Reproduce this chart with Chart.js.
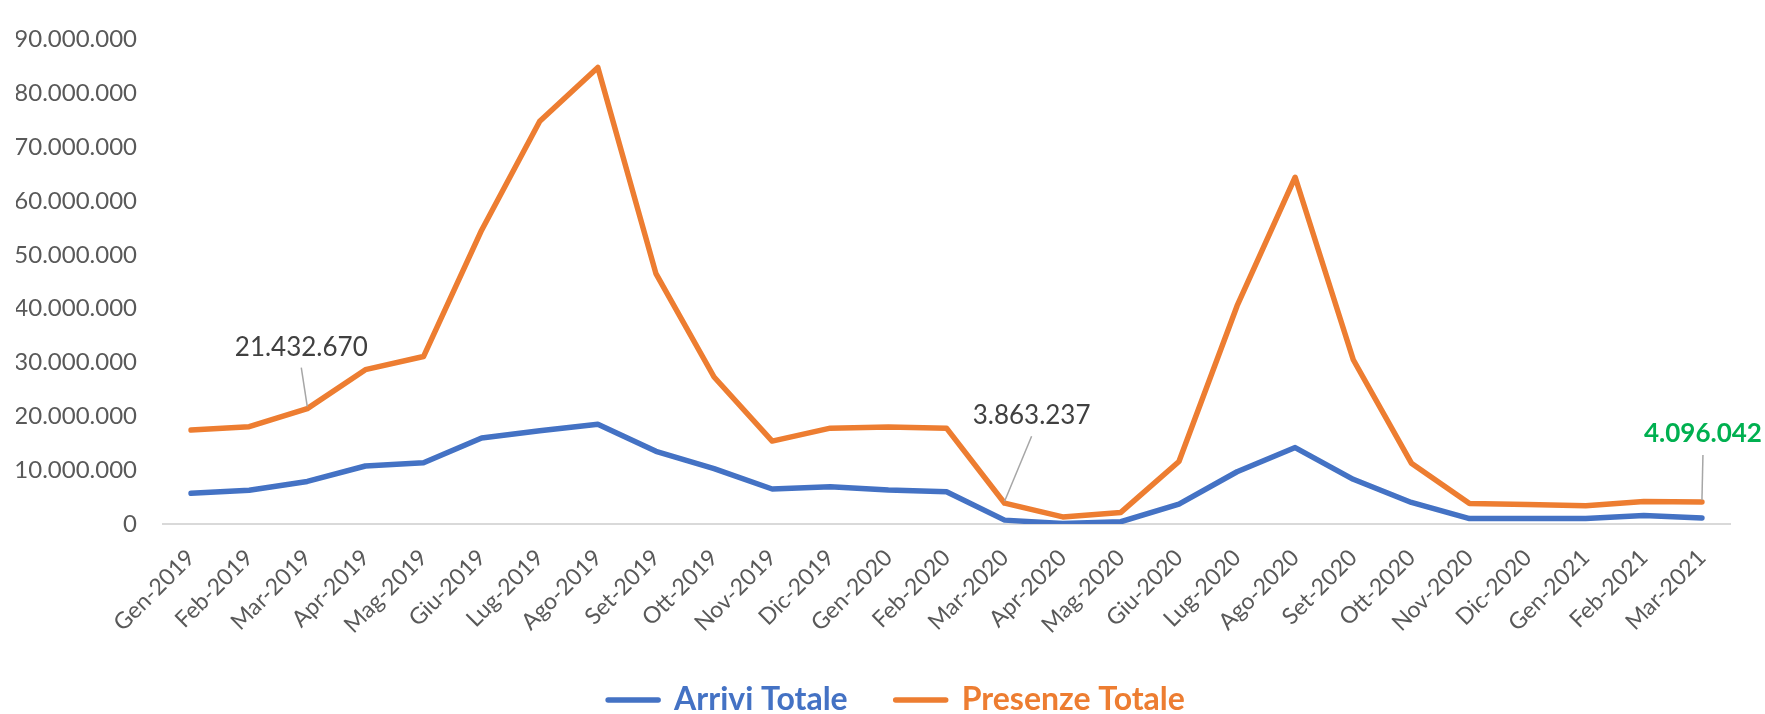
<!DOCTYPE html>
<html>
<head>
<meta charset="utf-8">
<script src="https://cdn.jsdelivr.net/npm/chart.js@4/dist/chart.umd.min.js"></script>
<style>
  html, body { margin: 0; padding: 0; background: #fff; }
  #wrap { width: 1765px; height: 714px; }
</style>
</head>
<body>
<div id="wrap"><canvas id="chart"></canvas></div>
<script>
const months = [
  "Gen-2019", "Feb-2019", "Mar-2019", "Apr-2019", "Mag-2019", "Giu-2019",
  "Lug-2019", "Ago-2019", "Set-2019", "Ott-2019", "Nov-2019", "Dic-2019",
  "Gen-2020", "Feb-2020", "Mar-2020", "Apr-2020", "Mag-2020", "Giu-2020",
  "Lug-2020", "Ago-2020", "Set-2020", "Ott-2020", "Nov-2020", "Dic-2020",
  "Gen-2021", "Feb-2021", "Mar-2021"
];

const arriviTotale = [
  5690000, 6280000, 7900000, 10770000, 11360000, 15970000,
  17300000, 18540000, 13500000, 10300000, 6500000, 6900000,
  6300000, 6000000, 720000, 100000, 420000, 3700000,
  9700000, 14200000, 8300000, 4000000, 1000000, 1000000,
  1020000, 1600000, 1130000
];

const presenzeTotale = [
  17460000, 18070000, 21432670, 28660000, 31100000, 54560000,
  74800000, 84800000, 46500000, 27300000, 15400000, 17800000,
  18000000, 17800000, 3863237, 1310000, 2150000, 11600000,
  40500000, 64400000, 30500000, 11300000, 3800000, 3600000,
  3400000, 4180000, 4096042
];

const yMax = 90000000;
const yStep = 10000000;

// punti con etichetta dati (serie 1 = Presenze)
const callouts = [
  { dataset: 1, index: 2,  dx: -6,  dy: -61, lineDx: -6,  lineDy: -41, color: "#404040", bold: false },
  { dataset: 1, index: 14, dx: 27,  dy: -88, lineDx: 27,  lineDy: -67, color: "#404040", bold: false },
  { dataset: 1, index: 26, dx: 1,   dy: -68, lineDx: 1,   lineDy: -47, color: "#00B050", bold: true }
];

const fmt = (v) => String(Math.round(v)).replace(/\B(?=(\d{3})+(?!\d))/g, ".");

Chart.defaults.font.family = "Lato, 'Noto Sans', sans-serif";

const calloutPlugin = {
  id: "callouts",
  afterDatasetsDraw(chart) {
    const ctx = chart.ctx;
    callouts.forEach((c) => {
      const el = chart.getDatasetMeta(c.dataset).data[c.index];
      const value = chart.data.datasets[c.dataset].data[c.index];
      ctx.save();
      ctx.strokeStyle = "#a6a6a6";
      ctx.lineWidth = 1.5;
      ctx.beginPath();
      ctx.moveTo(el.x + c.lineDx, el.y + c.lineDy);
      ctx.lineTo(el.x, el.y - 2);
      ctx.stroke();
      ctx.font = (c.bold ? "bold " : "") + "26px Lato, 'Noto Sans', sans-serif";
      ctx.fillStyle = c.color;
      ctx.textAlign = "center";
      ctx.textBaseline = "middle";
      ctx.fillText(fmt(value), el.x + c.dx, el.y + c.dy);
      ctx.restore();
    });
  }
};

// sposta un po' la legenda verso destra, come nell'originale
const legendShift = {
  id: "legendShift",
  afterLayout(chart) {
    chart.legend.left += 23;
    chart.legend.right += 23;
  }
};

const ctx = document.getElementById("chart").getContext("2d");
new Chart(ctx, {
  type: "line",
  data: {
    labels: months,
    datasets: [
      {
        label: "Arrivi Totale",
        data: arriviTotale,
        borderColor: "#4472C4",
        backgroundColor: "#4472C4",
        borderWidth: 5.5,
        borderCapStyle: "round",
        borderJoinStyle: "round",
        pointRadius: 0,
        tension: 0
      },
      {
        label: "Presenze Totale",
        data: presenzeTotale,
        borderColor: "#ED7D31",
        backgroundColor: "#ED7D31",
        borderWidth: 5.5,
        borderCapStyle: "round",
        borderJoinStyle: "round",
        pointRadius: 0,
        tension: 0
      }
    ]
  },
  options: {
    responsive: true,
    maintainAspectRatio: false,
    animation: false,
    layout: { padding: { left: 16, right: 34, top: 22, bottom: 0 } },
    scales: {
      x: {
        offset: true,
        grid: { display: false },
        border: { display: false },
        ticks: {
          autoSkip: false,
          minRotation: 45,
          maxRotation: 45,
          padding: 12,
          color: "#595959",
          font: { size: 23 }
        },
        afterFit: (scale) => { scale.height = 112; }
      },
      y: {
        min: 0,
        max: yMax,
        border: { display: false },
        grid: {
          drawTicks: false,
          lineWidth: 2,
          color: (c) => (c.tick && c.tick.value === 0 ? "#d9d9d9" : "rgba(0,0,0,0)")
        },
        ticks: {
          stepSize: yStep,
          padding: 25,
          color: "#595959",
          font: { size: 24 },
          callback: (v) => fmt(v)
        },
        afterFit: (scale) => { scale.width = 146; }
      }
    },
    plugins: {
      tooltip: { enabled: false },
      legend: {
        position: "bottom",
        maxHeight: 78,
        labels: {
          usePointStyle: true,
          pointStyleWidth: 50,
          padding: 48,
          font: { size: 32, weight: "bold" },
          generateLabels: (chart) =>
            Chart.defaults.plugins.legend.labels.generateLabels(chart).map((item) => {
              const ds = chart.data.datasets[item.datasetIndex];
              return {
                ...item,
                pointStyle: "line",
                strokeStyle: ds.borderColor,
                fillStyle: ds.borderColor,
                fontColor: ds.borderColor,
                lineWidth: 5.5,
                lineCap: "round"
              };
            })
        }
      }
    }
  },
  plugins: [calloutPlugin, legendShift]
});
</script>
</body>
</html>
